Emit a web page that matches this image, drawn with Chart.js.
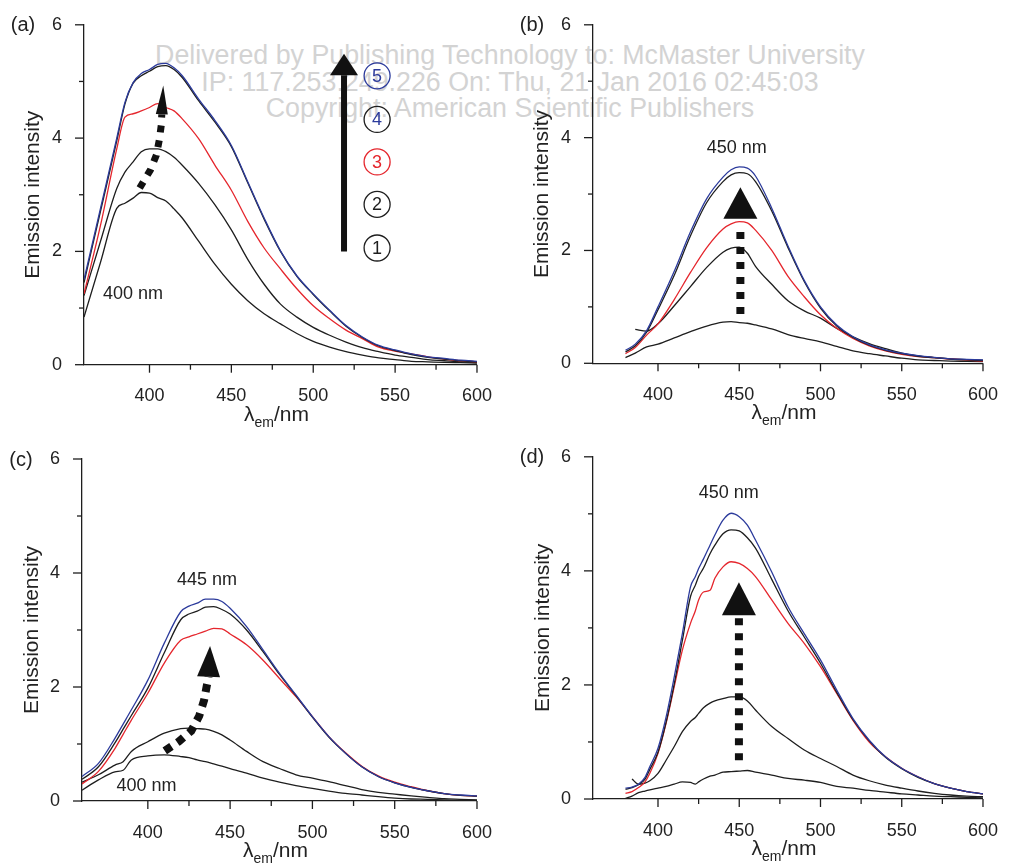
<!DOCTYPE html>
<html>
<head>
<meta charset="utf-8">
<title>Emission spectra (a)-(d)</title>
<script src="https://cdn.jsdelivr.net/npm/chart.js"></script>
<style>
  body { margin: 0; background: #fff; }
  #page { position: relative; width: 1011px; height: 864px; overflow: hidden; }
  #page canvas { position: absolute; }
  #wm { position: absolute; left: 0; top: 42px; width: 1020px; text-align: center; color: #d3d3d3;
        font-family: "Liberation Sans", Arial, sans-serif; font-size: 26.8px; line-height: 26.5px; white-space: nowrap; }
</style>
</head>
<body>
<div id="page">
  <div id="wm">Delivered by Publishing Technology to: McMaster University<br>IP: 117.253.249.226 On: Thu, 21 Jan 2016 02:45:03<br>Copyright: American Scientific Publishers</div>
  <canvas id="pa" width="505" height="432" style="left:0;top:0"></canvas>
  <canvas id="pb" width="506" height="432" style="left:505px;top:0"></canvas>
  <canvas id="pc" width="505" height="432" style="left:0;top:432px"></canvas>
  <canvas id="pd" width="506" height="432" style="left:505px;top:432px"></canvas>
</div>
<script>
// ---- data: wavelength (nm) and emission intensity, curves 1..5 per panel ----
const wlA = [360,370,380,385,390,395,400,405,410,415,420,430,440,450,460,470,480,490,500,510,520,530,540,550,560,570,580,590,600];
const a1 = [0.84,1.80,2.76,2.85,2.94,3.04,3.03,2.95,2.89,2.75,2.59,2.18,1.77,1.42,1.13,0.90,0.72,0.55,0.41,0.31,0.23,0.17,0.12,0.09,0.06,0.05,0.04,0.035,0.03];
const a2 = [1.22,2.17,3.11,3.40,3.58,3.76,3.81,3.81,3.76,3.66,3.52,3.20,2.82,2.38,1.86,1.42,1.07,0.84,0.66,0.52,0.40,0.30,0.23,0.17,0.13,0.09,0.07,0.05,0.035];
const a3 = [1.25,2.45,3.81,4.37,4.43,4.48,4.54,4.61,4.54,4.48,4.34,3.99,3.52,3.08,2.53,2.06,1.69,1.34,1.04,0.81,0.61,0.46,0.31,0.24,0.19,0.14,0.10,0.07,0.05];
const a4 = [1.45,2.70,3.95,4.60,4.97,5.10,5.18,5.26,5.28,5.21,5.07,4.66,4.28,3.85,3.21,2.57,2.00,1.56,1.24,0.95,0.68,0.48,0.33,0.25,0.18,0.13,0.10,0.07,0.05];
const a5 = [1.50,2.75,4.00,4.63,4.98,5.14,5.21,5.30,5.32,5.24,5.10,4.69,4.31,3.87,3.23,2.59,2.01,1.57,1.25,0.96,0.69,0.49,0.34,0.26,0.19,0.14,0.11,0.08,0.06];

const wlB = [380,386,393,400,410,420,430,440,445,450,455,460,470,480,490,500,510,520,530,540,550,560,570,580,590,600];
const b1 = [0.10,0.18,0.29,0.34,0.45,0.56,0.66,0.73,0.74,0.72,0.71,0.68,0.61,0.51,0.44,0.38,0.30,0.22,0.17,0.13,0.09,0.06,0.05,0.04,0.035,0.03];
const b2 = [null,0.60,0.57,0.70,1.02,1.36,1.70,1.97,2.04,2.06,1.95,1.72,1.40,1.11,0.93,0.80,0.62,0.47,0.35,0.26,0.18,0.13,0.10,0.08,0.065,0.05];
const b3 = [0.17,0.28,0.50,0.70,1.13,1.61,2.05,2.38,2.47,2.51,2.49,2.36,2.00,1.54,1.18,0.86,0.62,0.44,0.31,0.22,0.16,0.12,0.10,0.076,0.058,0.04];
const b4 = [0.20,0.31,0.55,0.95,1.56,2.26,2.85,3.22,3.34,3.38,3.36,3.22,2.70,2.05,1.45,0.98,0.66,0.46,0.32,0.23,0.17,0.125,0.10,0.075,0.06,0.05];
const b5 = [0.23,0.34,0.58,1.00,1.63,2.33,2.92,3.30,3.43,3.48,3.46,3.32,2.75,2.08,1.47,1.00,0.68,0.47,0.33,0.24,0.18,0.135,0.105,0.08,0.07,0.06];

const wlC = [360,370,380,385,390,400,410,420,425,430,435,440,445,450,460,470,480,490,500,510,520,530,540,550,560,570,580,590,600];
const c1 = [0.19,0.37,0.51,0.54,0.72,0.79,0.81,0.78,0.76,0.72,0.69,0.65,0.61,0.57,0.49,0.40,0.33,0.27,0.22,0.175,0.135,0.105,0.075,0.05,0.035,0.03,0.02,0.012,0.01];
const c2 = [0.33,0.46,0.63,0.69,0.87,1.04,1.19,1.27,1.28,1.27,1.26,1.22,1.16,1.07,0.87,0.69,0.57,0.46,0.40,0.34,0.27,0.20,0.15,0.12,0.09,0.065,0.04,0.03,0.02];
const c3 = [0.30,0.52,0.92,1.17,1.42,1.89,2.42,2.82,2.88,2.93,2.98,3.03,3.02,2.93,2.74,2.47,2.15,1.83,1.48,1.13,0.85,0.61,0.44,0.33,0.25,0.18,0.13,0.10,0.085];
const c4 = [0.38,0.60,1.02,1.26,1.50,1.98,2.60,3.18,3.28,3.33,3.40,3.41,3.36,3.28,3.00,2.62,2.22,1.85,1.47,1.12,0.84,0.60,0.43,0.32,0.24,0.18,0.13,0.10,0.085];
const c5 = [0.43,0.66,1.10,1.35,1.60,2.12,2.77,3.32,3.42,3.47,3.54,3.54,3.50,3.38,3.06,2.65,2.24,1.86,1.48,1.13,0.84,0.60,0.43,0.32,0.24,0.18,0.13,0.105,0.09];

const wlD = [380,384,388,392,395,400,405,410,415,420,423,425,428,432,435,440,445,450,455,460,470,480,490,500,510,520,530,540,550,560,570,580,590,600];
const d1 = [0.01,0.05,0.11,0.14,0.16,0.19,0.22,0.26,0.30,0.29,0.26,0.30,0.35,0.40,0.42,0.47,0.48,0.49,0.50,0.47,0.42,0.36,0.33,0.29,0.22,0.19,0.15,0.12,0.09,0.07,0.05,0.04,0.03,0.02];
const d2 = [null,0.35,0.26,0.28,0.32,0.45,0.68,0.92,1.18,1.36,1.43,1.50,1.60,1.68,1.72,1.76,1.79,1.79,1.72,1.56,1.27,1.06,0.86,0.71,0.57,0.42,0.32,0.245,0.19,0.14,0.10,0.07,0.05,0.04];
const d3 = [0.10,0.13,0.20,0.30,0.45,0.80,1.33,1.97,2.61,3.08,3.30,3.49,3.63,3.66,3.87,4.07,4.16,4.13,4.04,3.90,3.49,3.08,2.73,2.32,1.85,1.38,1.00,0.74,0.54,0.39,0.27,0.19,0.13,0.09];
const d4 = [0.17,0.20,0.25,0.35,0.52,0.82,1.35,2.02,2.78,3.55,3.75,3.90,4.05,4.30,4.45,4.65,4.72,4.70,4.58,4.40,3.85,3.30,2.84,2.38,1.87,1.39,1.02,0.73,0.53,0.38,0.27,0.19,0.13,0.09];
const d5 = [0.19,0.21,0.26,0.38,0.57,0.89,1.44,2.14,2.90,3.72,3.90,4.04,4.21,4.45,4.63,4.89,5.01,4.95,4.80,4.54,3.98,3.37,2.90,2.44,1.91,1.41,1.03,0.74,0.54,0.39,0.27,0.19,0.13,0.09];

const FONT = '"Liberation Sans", Arial, Helvetica, sans-serif';
const BLUE = '#2c3b9c', RED = '#e5262d', INK = '#1e1e1e', TXT = '#222';

function line(wl, ys, color) {
  return {
    data: wl.map((x, i) => ({x: x, y: ys[i]})).filter(p => p.y !== null),
    borderColor: color, borderWidth: 1.3, pointRadius: 0,
    cubicInterpolationMode: 'monotone', fill: false
  };
}

// annotations, ticks, letters and the x title with subscript
function decoPlugin(d) {
  return {
    id: 'deco',
    afterDraw(chart) {
      const ctx = chart.ctx, xs = chart.scales.x, ys = chart.scales.y, ca = chart.chartArea;
      const X = v => xs.getPixelForValue(v), Y = v => ys.getPixelForValue(v);
      ctx.save();
      ctx.strokeStyle = INK; ctx.fillStyle = TXT; ctx.lineWidth = 1.3;
      xs.ticks.forEach(t => {
        if (t.value % 25 !== 0 || t.value <= 360) return;
        const len = t.value % 50 ? 5 : 8;
        ctx.beginPath(); ctx.moveTo(X(t.value), ca.bottom); ctx.lineTo(X(t.value), ca.bottom + len); ctx.stroke();
      });
      ys.ticks.forEach(t => {
        const len = t.value % 2 ? 5 : 9;
        ctx.beginPath(); ctx.moveTo(ca.left - len, Y(t.value)); ctx.lineTo(ca.left, Y(t.value)); ctx.stroke();
      });

      ctx.textAlign = 'center'; ctx.textBaseline = 'middle';
      ctx.font = '20px ' + FONT;
      ctx.fillText(d.letter, ca.left - 61, ca.top + 1);

      // λem/nm
      const cx = (ca.left + ca.right) / 2 - 4, by = ca.bottom + 56;
      ctx.textAlign = 'left'; ctx.textBaseline = 'alphabetic';
      ctx.font = '21px ' + FONT; const w1 = ctx.measureText('λ').width, w3 = ctx.measureText('/nm').width;
      ctx.font = '14px ' + FONT; const w2 = ctx.measureText('em').width;
      let x0 = cx - (w1 + w2 + w3) / 2;
      ctx.font = '21px ' + FONT; ctx.fillText('λ', x0, by);
      ctx.font = '14px ' + FONT; ctx.fillText('em', x0 + w1, by + 6);
      ctx.font = '21px ' + FONT; ctx.fillText('/nm', x0 + w1 + w2, by);

      ctx.textAlign = 'center'; ctx.textBaseline = 'middle';
      ctx.font = '18px ' + FONT;
      (d.notes || []).forEach(n => ctx.fillText(n.t, X(n.x), Y(n.y)));

      (d.arrows || []).forEach(a => {
        ctx.save();
        ctx.strokeStyle = '#111'; ctx.fillStyle = '#111';
        ctx.lineWidth = a.w; ctx.lineCap = 'butt';
        if (a.dash) ctx.setLineDash(a.dash);
        ctx.beginPath();
        a.line.forEach((p, i) => i ? ctx.lineTo(X(p[0]), Y(p[1])) : ctx.moveTo(X(p[0]), Y(p[1])));
        ctx.stroke();
        ctx.setLineDash([]);
        const bx = X(a.base[0]), by2 = Y(a.base[1]), tx = X(a.tip[0]), ty = Y(a.tip[1]);
        const len = Math.hypot(tx - bx, ty - by2), nx = -(ty - by2) / len, ny = (tx - bx) / len;
        ctx.beginPath();
        ctx.moveTo(tx, ty);
        ctx.lineTo(bx + nx * a.hw, by2 + ny * a.hw);
        ctx.lineTo(bx - nx * a.hw, by2 - ny * a.hw);
        ctx.closePath(); ctx.fill();
        ctx.restore();
      });

      (d.rings || []).forEach(r => {
        ctx.strokeStyle = r.ring; ctx.fillStyle = r.ink; ctx.lineWidth = 1.3;
        ctx.beginPath(); ctx.arc(X(r.x), Y(r.y), 13, 0, Math.PI * 2); ctx.stroke();
        ctx.font = '18px ' + FONT;
        ctx.fillText(r.n, X(r.x), Y(r.y) + 1);
      });
      ctx.restore();
    }
  };
}

function panel(id, wl, curves, box, deco) {
  const axisFont = {family: FONT, size: 18};
  new Chart(document.getElementById(id), {
    type: 'line',
    data: { datasets: [
      line(wl, curves[4], BLUE), line(wl, curves[3], INK), line(wl, curves[2], RED),
      line(wl, curves[1], INK), line(wl, curves[0], INK)
    ] },
    options: {
      responsive: false, animation: false, events: [],
      layout: { padding: { left: 0, top: box.top, right: box.right, bottom: 0 } },
      plugins: { legend: { display: false }, tooltip: { enabled: false } },
      scales: {
        x: {
          type: 'linear', min: 360, max: 600,
          grid: { display: false }, border: { display: true, color: INK, width: 1.3 },
          ticks: { stepSize: 25, autoSkip: false, maxRotation: 0, padding: 13, color: TXT, font: axisFont,
                   callback: v => v % 50 === 0 ? v : '' },
          afterFit: s => { s.height = box.xh; }
        },
        y: {
          min: 0, max: 6,
          grid: { display: false }, border: { display: true, color: INK, width: 1.3 },
          ticks: { stepSize: 1, padding: 14, color: TXT, font: axisFont,
                   callback: v => v % 2 === 0 ? v : '' },
          title: { display: true, text: 'Emission intensity', color: TXT,
                   font: {family: FONT, size: 21}, padding: {top: box.tp, bottom: 0} },
          afterFit: s => { s.width = box.yw; }
        }
      }
    },
    plugins: [decoPlugin(deco)]
  });
}

panel('pa', wlA, [a1, a2, a3, a4, a5], {top: 21.7, right: 19, xh: 67.3, yw: 84, tp: 20.4}, {
  letter: '(a)',
  notes: [{t: '400 nm', x: 389.9, y: 1.25}],
  arrows: [
    {line: [[518.8, 2.0], [518.8, 5.11]], base: [518.8, 5.11], tip: [518.8, 5.49], hw: 14, w: 6},
    {line: [[394.0, 3.12], [400.6, 3.44], [404.2, 3.70], [406.0, 3.97], [407.2, 4.23], [407.5, 4.42]],
     base: [407.5, 4.42], tip: [408.4, 4.93], hw: 6, w: 7, dash: [7, 8]}
  ],
  rings: [
    {n: '5', x: 539, y: 5.10, ring: BLUE, ink: BLUE},
    {n: '4', x: 539, y: 4.33, ring: INK, ink: BLUE},
    {n: '3', x: 539, y: 3.58, ring: RED, ink: RED},
    {n: '2', x: 539, y: 2.83, ring: INK, ink: INK},
    {n: '1', x: 539, y: 2.06, ring: INK, ink: INK}
  ]
});

panel('pb', wlB, [b1, b2, b3, b4, b5], {top: 20.7, right: 16, xh: 68.7, yw: 88, tp: 24.4}, {
  letter: '(b)',
  notes: [{t: '450 nm', x: 448.4, y: 3.82}],
  arrows: [
    {line: [[450.7, 0.876], [450.7, 2.33]], base: [450.7, 2.56], tip: [450.7, 3.12], hw: 17, w: 8, dash: [7, 8]}
  ]
});

panel('pc', wlC, [c1, c2, c3, c4, c5], {top: 27, right: 22, xh: 63, yw: 82, tp: 19.4}, {
  letter: '(c)',
  notes: [{t: '445 nm', x: 436, y: 3.88}, {t: '400 nm', x: 399.2, y: 0.26}],
  arrows: [
    {line: [[410.3, 0.88], [418.6, 1.04], [426.4, 1.23], [431.2, 1.49], [434.2, 1.77], [436.0, 2.05], [436.9, 2.18]],
     base: [436.9, 2.18], tip: [437.8, 2.72], hw: 11.5, w: 8, dash: [8, 7]}
  ]
});

panel('pd', wlD, [d1, d2, d3, d4, d5], {top: 24.7, right: 17, xh: 65, yw: 88, tp: 25.4}, {
  letter: '(d)',
  notes: [{t: '450 nm', x: 443.5, y: 5.36}],
  arrows: [
    {line: [[449.8, 0.68], [449.8, 3.17]], base: [449.8, 3.22], tip: [449.8, 3.80], hw: 17, w: 8, dash: [7, 8]}
  ]
});
</script>
</body>
</html>
